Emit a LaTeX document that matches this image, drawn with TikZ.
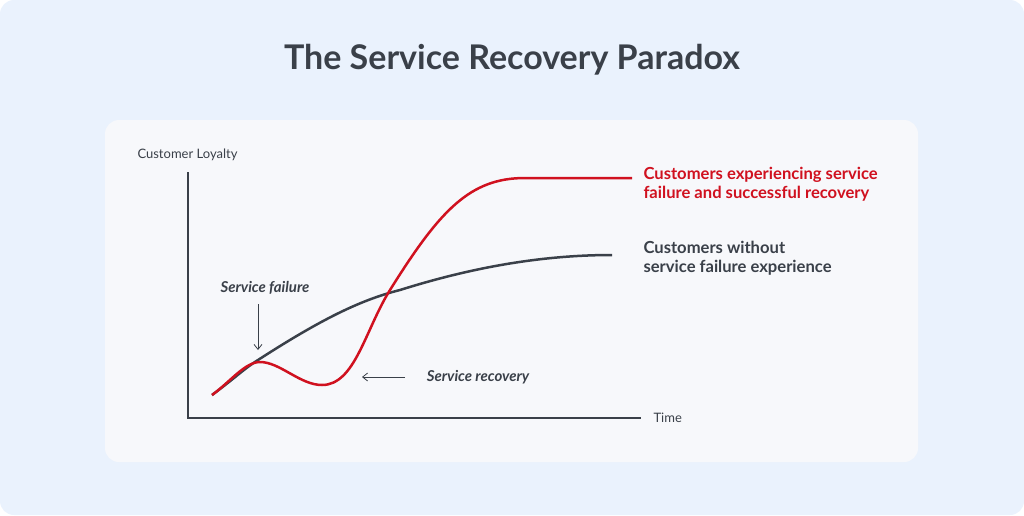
\documentclass[tikz,border=0pt]{standalone}
\usepackage{fontspec}
\setmainfont{Lato}
\newfontfamily\heavy{Lato}[UprightFont=*-Black,BoldFont=*-Black]
\usetikzlibrary{arrows.meta}
\definecolor{bg}{HTML}{EAF2FD}
\definecolor{card}{HTML}{F7F8FB}
\definecolor{ink}{HTML}{3A4049}
\definecolor{rd}{HTML}{D0111F}
\begin{document}
\begin{tikzpicture}[x=1pt,y=-1pt,
  lbl/.style={font=\fontsize{16.6}{19}\selectfont\bfseries,align=left,anchor=west},
  hand/.style={font=\fontsize{15}{18}\selectfont\itshape\bfseries,text=ink},
  axis/.style={draw=ink,line width=2.5pt},
  note/.style={draw=ink,line width=0.8pt,-{Straight Barb[length=5pt,width=8pt]}}]
\fill[bg,rounded corners=14pt] (0,0) rectangle (1024,515);
\useasboundingbox (0,0) rectangle (1024,515);
\fill[card,rounded corners=14pt] (105,120) rectangle (918,462);
\node[font=\fontsize{34}{38}\selectfont\bfseries,text=ink] (title) at (512,60) {The Service Recovery Paradox};
\coordinate (o) at (188,418);
\coordinate (yt) at (188,172);
\coordinate (xt) at (641,418);
\draw[axis] (yt) -- (o) -- (xt);
\node[font=\fontsize{13}{15}\selectfont,text=ink,anchor=west] (yl) at (134,155) {Customer Loyalty};
\node[font=\fontsize{13}{15}\selectfont,text=ink,anchor=west] (xl) at (650,418) {Time};
\draw[ink,line width=2.5pt] (212,395) .. controls (235,378) and (245,368) .. (258,360)
  .. controls (320,320) and (360,300) .. (400,290)
  .. controls (470,268) and (540,255) .. (612,255);
\draw[rd,line width=2.5pt] (212,395) .. controls (230,382) and (245,362) .. (260,362)
  .. controls (280,362) and (300,385) .. (322,385)
  .. controls (355,385) and (365,330) .. (390,290)
  .. controls (440,210) and (470,178) .. (525,178) -- (632,178);
\node[lbl,text=rd] (rl) at (640,184) {Customers experiencing service\\failure and successful recovery};
\node[lbl,text=ink] (gl) at (640,258) {Customers without\\service failure experience};
\node[hand] (sf) at (265,288) {Service failure};
\node[hand] (sr) at (478,377) {Service recovery};
\coordinate (sfa) at (258,304);
\coordinate (sfb) at (258,350);
\coordinate (sra) at (405,377);
\coordinate (srb) at (362,377);
\draw[note] (sfa) -- (sfb);
\draw[note] (sra) -- (srb);
\end{tikzpicture}
\end{document}
